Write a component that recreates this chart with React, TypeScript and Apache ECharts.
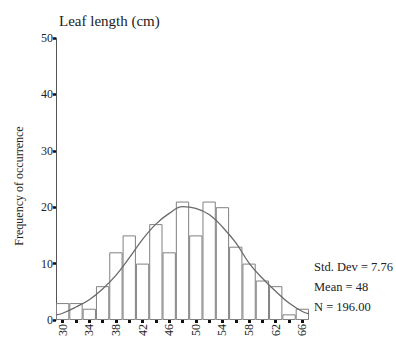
import React, { useEffect, useRef } from "react";
import * as echarts from "echarts";

// Bin centers (cm), bin width 2
const binLabels = ["30", "32", "34", "36", "38", "40", "42", "44", "46", "48", "50", "52", "54", "56", "58", "60", "62", "64", "66"];
// Frequencies
const counts = [3, 3, 2, 6, 12, 15, 10, 17, 12, 21, 15, 21, 20, 13, 10, 7, 6, 1, 2];
// Fitted normal curve
const curveX = [29, 30, 32, 34, 36, 38, 40, 42, 44, 46, 48, 50, 52, 54, 56, 58, 60, 62, 64, 66, 67];
const curveY = [0.9, 1.2, 2.3, 3.6, 5.5, 7.9, 11, 14.3, 17, 18.9, 20.1, 19.8, 18.7, 16.5, 13.7, 10.1, 7.4, 5.1, 3.0, 1.5, 1.1];
const yTicks = [0, 10, 20, 30, 40, 50];
const statLines = ["Std. Dev = 7.76", "Mean = 48", "N = 196.00"];

const SERIF = "'Liberation Serif', 'DejaVu Serif', serif";

export default function App() {
  const ref = useRef<HTMLDivElement>(null);
  useEffect(() => {
    if (!ref.current) return;
    const chart = echarts.init(ref.current, undefined, { renderer: "svg" });
    const grid = { left: 56, right: 87, top: 38, bottom: 21 };
    chart.setOption({
      animation: false,
      backgroundColor: "#ffffff",
      title: {
        text: "Leaf length (cm)",
        left: 54,
        top: 8,
        textStyle: { fontFamily: SERIF, fontSize: 15, fontWeight: "normal", color: "#222" },
      },
      grid,
      xAxis: [
        {
          type: "category",
          data: binLabels,
          boundaryGap: true,
          axisLine: { show: false },
          axisTick: {
            show: true,
            alignWithLabel: true,
            interval: 0,
            length: 3,
            lineStyle: { color: "#111", width: 3 },
          },
          axisLabel: {
            interval: 1,
            rotate: 90,
            margin: 4,
            fontFamily: SERIF,
            fontSize: 12,
            color: "#222",
          },
          splitLine: { show: false },
        },
        {
          type: "value",
          min: 29,
          max: 67,
          show: false,
        },
      ],
      yAxis: {
        type: "value",
        min: yTicks[0],
        max: yTicks[yTicks.length - 1],
        interval: 10,
        axisLine: { show: true, lineStyle: { color: "#555", width: 1 } },
        axisTick: { show: true, length: 3, lineStyle: { color: "#111", width: 2.5 } },
        axisLabel: { margin: 3, fontFamily: SERIF, fontSize: 12, color: "#222" },
        splitLine: { show: false },
      },
      series: [
        {
          type: "bar",
          data: counts,
          xAxisIndex: 0,
          barCategoryGap: "0%",
          itemStyle: { color: "#ffffff", borderColor: "#808080", borderWidth: 1 },
        },
        {
          type: "line",
          xAxisIndex: 1,
          data: curveX.map((x, i) => [x, curveY[i]]),
          smooth: 0.4,
          symbol: "none",
          lineStyle: { color: "#6a6a6a", width: 1.3 },
          z: 5,
        },
      ],
      graphic: [
        {
          type: "text",
          x: 19,
          y: 186,
          rotation: Math.PI / 2,
          style: {
            text: "Frequency of occurrence",
            font: `12px ${SERIF}`,
            fill: "#222",
            textAlign: "center",
            textVerticalAlign: "middle",
          },
        },
        ...statLines.map((t, i) => ({
          type: "text",
          x: 314,
          y: 267 + i * 20,
          style: {
            text: t,
            font: `12.5px ${SERIF}`,
            fill: "#222",
            textAlign: "left",
            textVerticalAlign: "middle",
          },
        })),
      ],
    });
    return () => chart.dispose();
  }, []);
  return (
    <div
      ref={ref}
      style={{ position: "fixed", left: 0, top: 0, width: 396, height: 341 }}
    />
  );
}
